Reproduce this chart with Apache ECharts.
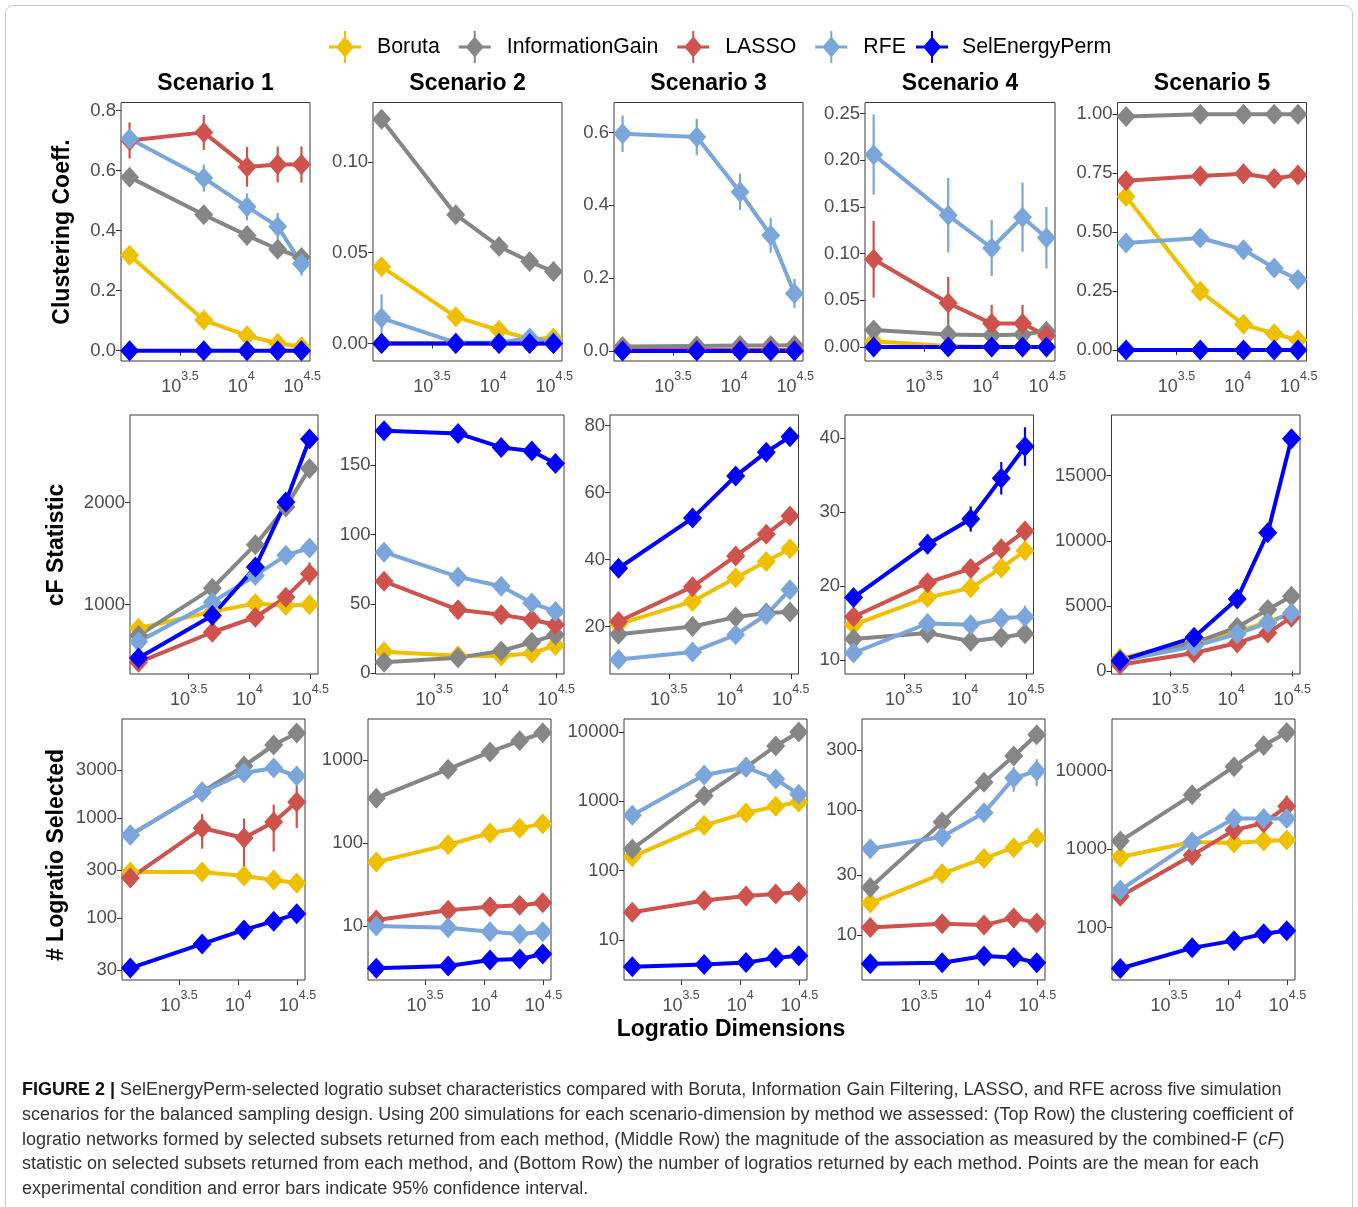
<!DOCTYPE html>
<html>
<head>
<meta charset="utf-8">
<script src="https://cdn.jsdelivr.net/npm/echarts@6/dist/echarts.min.js"></script>
<style>
  html, body { margin: 0; padding: 0; background: #fff; }
  #chart { width: 1358px; height: 1207px; }
</style>
</head>
<body>
<div id="chart"></div>
<script>
// ---- data ---------------------------------------------------------------
const methods = ['Boruta', 'InformationGain', 'LASSO', 'RFE', 'SelEnergyPerm'];
const methodColors = ['#EFC000', '#868686', '#CD534C', '#7AA6DC', '#0000FF'];
const dimensions = [1225, 4950, 11175, 19900, 31125];   // number of logratios
const scenarioNames = ['Scenario 1', 'Scenario 2', 'Scenario 3', 'Scenario 4', 'Scenario 5'];
const xTickExponents = [3.5, 4, 4.5];

// rows of every table follow the order of `methods`
// Clustering coefficient (means, then 95% CI half-widths)
const clusterS1 = [[0.318, 0.102, 0.050, 0.025, 0.013], [0.578, 0.453, 0.384, 0.338, 0.310], [0.700, 0.727, 0.612, 0.620, 0.620], [0.706, 0.575, 0.479, 0.414, 0.290], [0, 0, 0, 0, 0]];
const clusterS1Err = [[0.012, 0.010, 0.008, 0.006, 0.005], [0.010, 0.010, 0.010, 0.010, 0.010], [0.060, 0.058, 0.066, 0.060, 0.060], [0.030, 0.045, 0.045, 0.045, 0.040], [0, 0, 0, 0, 0]];
const clusterS2 = [[0.0423, 0.0147, 0.0073, 0.0025, 0.0030], [0.1234, 0.0709, 0.0534, 0.0451, 0.0396], [0, 0, 0, 0, 0], [0.0140, 0.0005, 0.0005, 0.0030, 0.0010], [0, 0, 0, 0, 0]];
const clusterS2Err = [[0.003, 0.002, 0.002, 0.001, 0.001], [0.002, 0.002, 0.002, 0.002, 0.002], [0, 0, 0, 0, 0], [0.013, 0.001, 0.001, 0.003, 0.001], [0, 0, 0, 0, 0]];
const clusterS3 = [[0.003, 0.002, 0.002, 0.002, 0.002], [0.012, 0.014, 0.015, 0.015, 0.016], [0.003, 0.003, 0.003, 0.003, 0.003], [0.597, 0.588, 0.437, 0.318, 0.158], [0, 0, 0, 0, 0]];
const clusterS3Err = [[0.002, 0.002, 0.002, 0.002, 0.002], [0.003, 0.003, 0.003, 0.003, 0.003], [0.002, 0.002, 0.002, 0.002, 0.002], [0.050, 0.050, 0.050, 0.048, 0.040], [0, 0, 0, 0, 0]];
const clusterS4 = [[0.006, 0.001, 0, 0, 0], [0.018, 0.0133, 0.0126, 0.0133, 0.0169], [0.094, 0.047, 0.025, 0.025, 0.012], [0.206, 0.141, 0.106, 0.139, 0.117], [0, 0, 0, 0, 0]];
const clusterS4Err = [[0.003, 0.001, 0, 0, 0], [0.003, 0.003, 0.003, 0.003, 0.003], [0.041, 0.028, 0.020, 0.020, 0.006], [0.043, 0.040, 0.030, 0.037, 0.033], [0, 0, 0, 0, 0]];
const clusterS5 = [[0.651, 0.249, 0.109, 0.069, 0.042], [0.990, 1.000, 1.000, 1.000, 1.000], [0.718, 0.738, 0.747, 0.727, 0.742], [0.454, 0.475, 0.425, 0.348, 0.299], [0, 0, 0, 0, 0]];
const clusterS5Err = [[0.020, 0.020, 0.015, 0.010, 0.010], [0.003, 0.002, 0.002, 0.002, 0.002], [0.030, 0.040, 0.040, 0.040, 0.035], [0.020, 0.020, 0.020, 0.020, 0.020], [0, 0, 0, 0, 0]];

// combined-F statistic
const cfS1 = [[767, 930, 1010, 990, 997], [695, 1160, 1587, 1957, 2334], [433, 728, 875, 1072, 1302], [636, 1023, 1285, 1482, 1554], [476, 892, 1367, 2006, 2622]];
const cfS1Err = [[20, 25, 30, 35, 40], [20, 25, 30, 40, 50], [20, 30, 40, 60, 110], [20, 25, 30, 40, 50], [20, 30, 40, 50, 70]];
const cfS2 = [[15.5, 12.7, 12.5, 14.5, 20.0], [8.0, 11.3, 16.1, 22.4, 27.7], [66.3, 45.8, 42.2, 38.6, 35.0], [87.3, 69.5, 62.7, 50.6, 44.6], [174.8, 172.9, 162.8, 160.3, 151.2]];
const cfS2Err = [[1, 1, 1, 1, 1.5], [1, 1, 1, 1.5, 2], [2, 2, 2, 2, 2], [2, 2, 2, 2, 2], [2, 2, 2, 2, 2]];
const cfS3 = [[20.7, 27.5, 34.6, 39.4, 43.2], [17.7, 20.0, 22.8, 24.0, 24.3], [21.5, 31.9, 41.1, 47.6, 53.0], [10.1, 12.4, 17.5, 23.5, 31.0], [37.4, 52.4, 65.0, 72.1, 76.7]];
const cfS3Err = [[0.5, 0.6, 0.7, 0.8, 0.9], [0.5, 0.5, 0.5, 0.5, 0.5], [0.5, 0.6, 0.7, 0.8, 0.9], [0.5, 0.5, 0.6, 0.8, 1.0], [0.7, 0.8, 1.0, 1.1, 1.3]];
const cfS4 = [[14.8, 18.5, 19.8, 22.5, 24.8], [12.9, 13.7, 12.6, 13.1, 13.6], [15.9, 20.5, 22.4, 25.1, 27.5], [11.0, 15.0, 14.8, 15.7, 15.9], [18.5, 25.7, 29.1, 34.6, 38.9]];
const cfS4Err = [[0.4, 0.5, 0.6, 0.6, 0.7], [0.4, 0.4, 0.4, 0.4, 0.4], [0.4, 0.5, 0.6, 0.6, 0.7], [0.6, 0.8, 0.8, 1.2, 1.5], [0.8, 1.3, 1.7, 2.2, 2.6]];
const cfS5 = [[1000, 2300, 3000, 3800, 4400], [897, 2177, 3373, 4730, 5750], [514, 1411, 2177, 2944, 4140], [820, 1917, 2867, 3710, 4477], [820, 2607, 5550, 10610, 17816]];
const cfS5Err = [[50, 80, 100, 120, 150], [50, 80, 100, 120, 150], [50, 80, 100, 120, 150], [50, 80, 100, 120, 150], [60, 150, 250, 350, 600]];

// number of logratios selected
const countS1 = [[288, 288, 263, 240, 224], [676, 1820, 3311, 5370, 7080], [251, 794, 631, 912, 1445], [676, 1820, 2818, 3162, 2630], [31.6, 55, 76, 93, 110]];
const countS1Err = [[15, 15, 15, 15, 15], [20, 40, 60, 80, 100], [40, 300, 360, 450, 650], [20, 40, 60, 80, 100], [1, 2, 3, 4, 6]];
const countS2 = [[59, 95, 132, 151, 170], [347, 776, 1250, 1700, 2130], [11.8, 15.5, 17, 17.8, 19], [10, 9.5, 8.5, 8, 8.5], [3.1, 3.3, 3.9, 4.0, 4.6]];
const countS2Err = [[2, 3, 4, 5, 6], [10, 20, 30, 40, 50], [0.5, 0.6, 0.7, 0.8, 0.9], [0.4, 0.4, 0.4, 0.4, 0.4], [0.1, 0.1, 0.2, 0.2, 0.3]];
const countS3 = [[158, 450, 680, 850, 980], [205, 1200, 3100, 6300, 10000], [25, 37, 43, 46, 49], [630, 2400, 3100, 2100, 1260], [4.1, 4.4, 4.7, 5.5, 5.9]];
const countS3Err = [[5, 15, 25, 30, 35], [6, 30, 80, 150, 250], [1, 1, 1, 1, 1], [20, 60, 80, 70, 50], [0.2, 0.2, 0.2, 0.3, 0.3]];
const countS4 = [[18, 31, 41, 50, 60], [24, 80, 167, 270, 400], [11.5, 12.3, 12, 13.7, 12.5], [49, 61, 95, 180, 205], [5.9, 6, 6.8, 6.6, 6]];
const countS4Err = [[1, 1, 2, 2, 3], [1, 3, 6, 10, 15], [0.6, 0.6, 0.6, 0.8, 0.6], [6, 10, 15, 40, 50], [0.3, 0.3, 0.4, 0.4, 0.4]];
const countS5 = [[790, 1230, 1190, 1260, 1300], [1260, 4900, 11200, 20800, 30400], [250, 830, 1740, 2140, 3500], [300, 1230, 2450, 2450, 2450], [30, 55, 68, 83, 91]];
const countS5Err = [[30, 40, 40, 40, 40], [30, 100, 200, 300, 400], [30, 200, 400, 500, 1300], [20, 60, 100, 100, 100], [1, 2, 2, 3, 3]];

// axis tick values
const clusterTicks = [[0, 0.2, 0.4, 0.6, 0.8], [0, 0.05, 0.10], [0, 0.2, 0.4, 0.6], [0, 0.05, 0.10, 0.15, 0.20, 0.25], [0, 0.25, 0.5, 0.75, 1.0]];
const cfTicks = [[1000, 2000], [0, 50, 100, 150], [20, 40, 60, 80], [10, 20, 30, 40], [0, 5000, 10000, 15000]];
const countTicks = [[30, 100, 300, 1000, 3000], [10, 100, 1000], [10, 100, 1000, 10000], [10, 30, 100, 300], [100, 1000, 10000]];

// ---- panel layout ----------------------------------------------------------
const FONT = '"Liberation Sans", Arial, Helvetica, sans-serif';
const TICK_COLOR = '#4D4D4D';

const rows = [
  { // clustering coefficient
    top: 102.5, height: 258.5, log: false,
    lefts: [121, 373, 614, 865, 1117.5], widths: [189, 189, 189, 190, 189],
    ranges: [[-0.0342, 0.8265], [-0.0096, 0.1326], [-0.0275, 0.6826], [-0.0151, 0.2619], [-0.0465, 1.0494]],
    digits: [1, 2, 1, 2, 2],
    means: [clusterS1, clusterS2, clusterS3, clusterS4, clusterS5],
    errs: [clusterS1Err, clusterS2Err, clusterS3Err, clusterS4Err, clusterS5Err],
    ticks: clusterTicks
  },
  { // cF statistic
    top: 415, height: 259, log: false,
    lefts: [130, 375.5, 610, 845, 1111.5], widths: [188, 188.5, 188.5, 188.5, 188.5],
    ranges: [[318.6, 2858], [-0.5, 186.2], [5.8, 83.2], [8.16, 43.16], [-199, 19625]],
    digits: [0, 0, 0, 0, 0],
    means: [cfS1, cfS2, cfS3, cfS4, cfS5],
    errs: [cfS1Err, cfS2Err, cfS3Err, cfS4Err, cfS5Err],
    ticks: cfTicks
  },
  { // number of logratios (log10 axis)
    top: 719, height: 261, log: true,
    lefts: [122, 368, 624, 862, 1112], widths: [183, 183, 183, 183, 183],
    ranges: [[1.38, 3.99], [0.349, 3.494], [0.421, 4.188], [0.64, 2.728], [1.331, 4.656]],
    digits: [0, 0, 0, 0, 0],
    means: [countS1, countS2, countS3, countS4, countS5],
    errs: [countS1Err, countS2Err, countS3Err, countS4Err, countS5Err],
    ticks: countTicks
  }
];

const xMin = 3.018, xMax = 4.563;
const xs = dimensions.map(d => Math.log10(d));

const grids = [], xAxes = [], yAxes = [], lineSeries = [], pointSeries = [];

rows.forEach((row, r) => {
  for (let c = 0; c < 5; c++) {
    const k = grids.length;
    grids.push({
      left: row.lefts[c], top: row.top, width: row.widths[c], height: row.height,
      show: true, borderColor: '#3a3a3a', borderWidth: 1, backgroundColor: '#fff'
    });
    xAxes.push({
      type: 'value', gridIndex: k, min: xMin, max: xMax,
      axisLine: { show: false },
      splitLine: { show: false },
      axisTick: { show: true, length: 5, customValues: xTickExponents, lineStyle: { color: '#333', width: 1 } },
      axisLabel: {
        customValues: xTickExponents, margin: 9, color: TICK_COLOR,
        formatter: v => '{b|10}{s|' + (Math.abs(v - 4) < 1e-9 ? '4' : String(v)) + '}',
        rich: {
          b: { fontSize: 18, fontFamily: FONT, color: TICK_COLOR, lineHeight: 26, verticalAlign: 'bottom' },
          s: { fontSize: 12.5, fontFamily: FONT, color: TICK_COLOR, verticalAlign: 'top', lineHeight: 26 }
        }
      }
    });
    const tickVals = row.log ? row.ticks[c].map(t => Math.log10(t)) : row.ticks[c];
    yAxes.push({
      type: 'value', gridIndex: k, min: row.ranges[c][0], max: row.ranges[c][1],
      axisLine: { show: false },
      splitLine: { show: false },
      axisTick: { show: true, length: 5, customValues: tickVals, lineStyle: { color: '#333', width: 1 } },
      axisLabel: {
        customValues: tickVals, margin: 5, color: TICK_COLOR, fontSize: 18.5, fontFamily: FONT,
        formatter: row.log ? (v => String(Math.round(Math.pow(10, v)))) : (v => v.toFixed(row.digits[c]))
      }
    });

    const tf = row.log ? (v => Math.log10(v)) : (v => v);
    methods.forEach((m, mi) => {
      const color = methodColors[mi];
      const vals = row.means[c][mi];
      const errs = row.errs[c][mi];
      const pts = vals.map((v, i) => [xs[i], tf(v)]);
      lineSeries.push({
        type: 'line', name: m, xAxisIndex: k, yAxisIndex: k, data: pts,
        symbol: 'none', showSymbol: false, silent: true, animation: false, z: 2,
        color: color, itemStyle: { color: color },
        lineStyle: { color: color, width: 4, cap: 'round', join: 'round' }
      });
      pointSeries.push({
        type: 'custom', name: m, xAxisIndex: k, yAxisIndex: k, silent: true, animation: false, z: 3,
        color: color,
        data: vals.map((v, i) => {
          const lo = Math.max(v - errs[i], row.log ? 1e-3 : -1e9);
          return [xs[i], tf(lo), tf(v + errs[i])];
        }),
        encode: { x: 0, y: [1, 2] },
        renderItem: (params, api) => {
          const p1 = api.coord([api.value(0), api.value(1)]);
          const p2 = api.coord([api.value(0), api.value(2)]);
          return {
            type: 'line',
            shape: { x1: p1[0], y1: p1[1], x2: p2[0], y2: p2[1] },
            style: { stroke: color, lineWidth: 2.2 }
          };
        }
      });
      pointSeries.push({
        type: 'scatter', name: m, xAxisIndex: k, yAxisIndex: k, data: pts,
        symbol: 'diamond', symbolSize: [19, 21], silent: true, animation: false, z: 3,
        color: color, itemStyle: { color: color, opacity: 1 }
      });
    });
  }
});

// ---- titles, axis titles, frame and caption -------------------------------
const titles = scenarioNames.map((s, c) => ({
  text: s,
  left: rows[0].lefts[c] + rows[0].widths[c] / 2,
  top: 72,
  padding: 0,
  textAlign: 'center',
  textStyle: { fontSize: 23, fontWeight: 'bold', fontFamily: FONT, color: '#000' }
}));

const axisTitle = (text, x, y, rot) => ({
  type: 'text', x: x, y: y, rotation: rot,
  style: { text: text, font: 'bold 23px ' + FONT, fill: '#000', align: 'center', verticalAlign: 'middle' },
  silent: true
});

const captionLines = [
  '{b|FIGURE 2 |} SelEnergyPerm-selected logratio subset characteristics compared with Boruta, Information Gain Filtering, LASSO, and RFE across five simulation',
  'scenarios for the balanced sampling design. Using 200 simulations for each scenario-dimension by method we assessed: (Top Row) the clustering coefficient of',
  'logratio networks formed by selected subsets returned from each method, (Middle Row) the magnitude of the association as measured by the combined-F ({i|cF})',
  'statistic on selected subsets returned from each method, and (Bottom Row) the number of logratios returned by each method. Points are the mean for each',
  'experimental condition and error bars indicate 95% confidence interval.'
];
const captionRich = {
  b: { font: 'bold 18px ' + FONT, fill: '#111' },
  i: { font: 'italic 18px ' + FONT, fill: '#333' }
};

const graphics = [
  { type: 'rect', shape: { x: 5.5, y: 5.5, width: 1347, height: 1230, r: 8 },
    style: { fill: 'none', stroke: '#c9c9c9', lineWidth: 1 }, silent: true, z: -10 },
  axisTitle('Clustering Coeff.', 63, 232, Math.PI / 2),
  axisTitle('cF Statistic', 57, 545, Math.PI / 2),
  axisTitle('# Logratio Selected', 57, 855, Math.PI / 2),
  axisTitle('Logratio Dimensions', 731, 1030, 0)
].concat(captionLines.map((t, i) => ({
  type: 'text', x: 22, y: 1090 + i * 24.8, silent: true,
  style: { text: t, font: '18px ' + FONT, fill: '#333', verticalAlign: 'middle', rich: captionRich }
})));

// legend symbol: error bar + line + diamond
const legendIcon = 'path://M0,14.5L32,14.5L32,17.5L0,17.5Z M15,0L17,0L17,32L15,32Z M16,5.5L25,16L16,26.5L7,16Z';
const legendBase = {
  top: 31, padding: 0, itemGap: 19, itemWidth: 32, itemHeight: 32, selectedMode: false,
  textStyle: { fontSize: 21.3, fontFamily: FONT, color: '#000', padding: [0, 0, 0, 11] }
};

const chart = echarts.init(document.getElementById('chart'), null, { renderer: 'canvas' });
chart.setOption({
  backgroundColor: '#fff',
  animation: false,
  title: titles,
  legend: [
    Object.assign({}, legendBase, { left: 329, data: methods.slice(0, 4).map(m => ({ name: m, icon: legendIcon })) }),
    Object.assign({}, legendBase, { left: 916, textStyle: Object.assign({}, legendBase.textStyle, { padding: [0, 0, 0, 9] }),
      data: methods.slice(4).map(m => ({ name: m, icon: legendIcon })) })
  ],
  grid: grids,
  xAxis: xAxes,
  yAxis: yAxes,
  series: lineSeries.concat(pointSeries),
  graphic: graphics
});
</script>
</body>
</html>
